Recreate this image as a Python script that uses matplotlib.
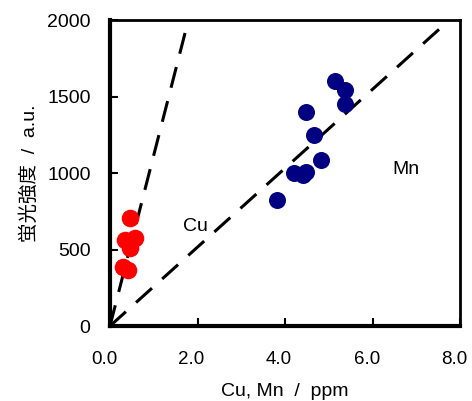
import matplotlib.pyplot as plt
import matplotlib.transforms as mtransforms
import numpy as np

plt.rcParams['font.family'] = ['Liberation Sans', 'Noto Sans CJK JP', 'DejaVu Sans']

# Cu data (ppm, a.u.)
cu_x = [0.46, 0.34, 0.57, 0.46, 0.30, 0.41]
cu_y = [708, 564, 577, 511, 387, 367]

# Mn data (ppm, a.u.)
mn_x = [3.81, 4.47, 4.20, 4.47, 4.40, 4.82, 4.66, 5.37, 5.37, 5.14]
mn_y = [826, 1397, 1003, 1010, 990, 1082, 1246, 1449, 1541, 1603]

# slopes of the dashed fit lines
cu_slope = 1117
mn_slope = 258

fig = plt.figure(figsize=(4.72, 4.01), dpi=100)
ax = fig.add_axes([0.233, 0.187, 0.742, 0.763])

xx = np.array([0, 8])
ax.plot(xx, cu_slope * xx, color='black', lw=2.2, dashes=(7, 4.5))
ax.plot(xx, mn_slope * xx, color='black', lw=2.2, dashes=(7, 4.5))

ax.scatter(cu_x, cu_y, s=160, color='#ff0000', zorder=3, linewidths=0)
ax.scatter(mn_x, mn_y, s=150, color='#000080', zorder=3, linewidths=0)

ax.text(1.95, 650, 'Cu', fontsize=14, ha='center', va='center')
ax.text(6.75, 1020, 'Mn', fontsize=14, ha='center', va='center')

ax.set_xlim(0, 8)
ax.set_ylim(0, 2000)
ax.set_xticks([0, 2, 4, 6, 8])
ax.set_xticklabels(['0.0', '2.0', '4.0', '6.0', '8.0'])
ax.set_yticks([0, 500, 1000, 1500, 2000])
ax.tick_params(direction='in', length=6, width=1.5, labelsize=14)
ax.tick_params(axis='x', labelsize=13.5, pad=18)
ax.tick_params(axis='y', pad=14)
shift = mtransforms.ScaledTranslation(-6 / 100, 0, fig.dpi_scale_trans)
for lab in ax.get_xticklabels():
    lab.set_transform(lab.get_transform() + shift)
for sp in ax.spines.values():
    sp.set_linewidth(2)
ax.spines['left'].set_linewidth(3)
ax.spines['bottom'].set_linewidth(3)

ax.set_xlabel('Cu, Mn  /  ppm', fontsize=14, labelpad=11)
ax.set_ylabel('蛍光強度  /  a.u.', fontsize=14, labelpad=6)

fig.savefig('out.png', dpi=100)
